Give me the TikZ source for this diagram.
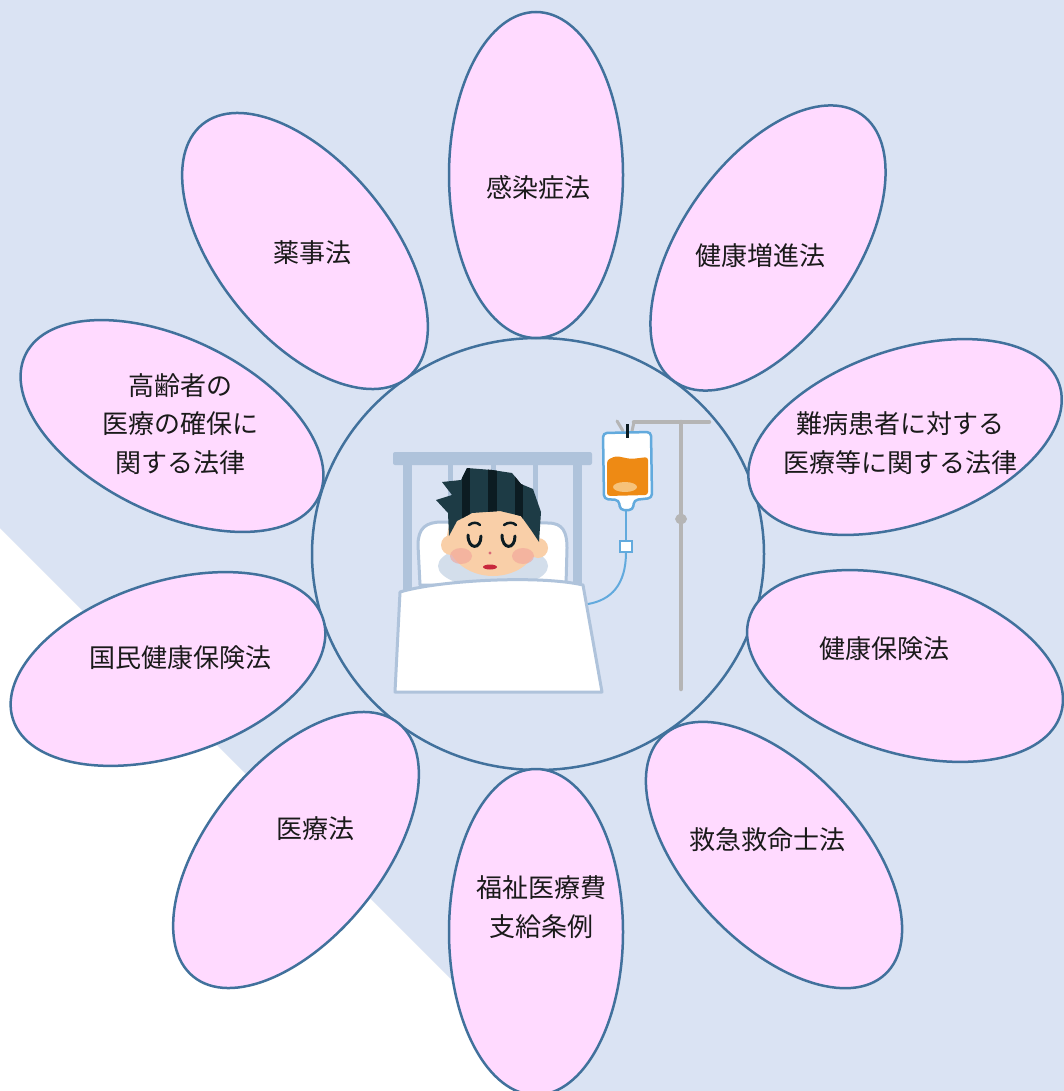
\documentclass[tikz,border=0pt]{standalone}
\usepackage{fontspec}
\newfontfamily\jp{Noto Sans CJK JP}
\definecolor{bgblue}{HTML}{DAE3F3}
\definecolor{petalfill}{HTML}{FFDAFF}
\definecolor{edge}{HTML}{41719C}
\definecolor{frame}{HTML}{AFC3DB}
\definecolor{skin}{HTML}{F9CFA8}
\definecolor{blush}{HTML}{F2A39A}
\definecolor{hair}{HTML}{1D3B45}
\definecolor{hairdark}{HTML}{0C1C22}
\definecolor{ivorange}{HTML}{EE8A14}
\definecolor{ivlight}{HTML}{F6C27A}
\definecolor{tube}{HTML}{62AADD}
\definecolor{stand}{HTML}{B5B5B5}
\definecolor{lips}{HTML}{C8283C}
\definecolor{txt}{HTML}{1A1A1A}
\tikzset{
  petal/.style={fill=petalfill, draw=edge, line width=2.5pt},
  hub/.style={fill=bgblue, draw=edge, line width=2.5pt},
  label/.style={font=\jp\fontsize{26}{38.5}\selectfont, text=txt, align=center, inner sep=0pt},
  outline/.style={draw=frame, line width=3pt, line join=round, line cap=round},
}
\begin{document}
\begin{tikzpicture}[x=1pt, y=-1pt]
\useasboundingbox (0,0) rectangle (1064,1091);
\fill[white] (0,0) rectangle (1064,1091);
% backdrop with the white corner at the lower left
\fill[bgblue] (0,0) -- (1064,0) -- (1064,1091) -- (535,1091) -- (515,1043) -- (0,528) -- cycle;

% centre disc
\draw[hub] (538,554) ellipse [x radius=226, y radius=216];

% ten petals around the disc: centre x / centre y / tilt
\foreach \cx/\cy/\tilt in {536/175/90, 768/248/55, 905/437/19, 905/666/-17, 774/855/-47,
                           536/932/-90, 296/850/-129, 168/669/198, 172/426/154, 305/251/129}{
  \coordinate (pc) at (\cx,\cy);
  \draw[petal, rotate around={\tilt:(pc)}] (pc) ellipse [x radius=163, y radius=87];
}

% petal labels
\node[label] (kansen)   at (538,188) {感染症法};
\node[label] (zoushin)  at (760,256) {健康増進法};
\node[label] (nanbyou)  at (900,443) {難病患者に対する\\医療等に関する法律};
\node[label] (kenpo)    at (884,649) {健康保険法};
\node[label] (kyukyu)   at (767,840) {救急救命士法};
\node[label] (fukushi)  at (541,907) {福祉医療費\\支給条例};
\node[label] (iryo)     at (315,829) {医療法};
\node[label] (kokuho)   at (180,658) {国民健康保険法};
\node[label] (koureisha) at (180,424) {高齢者の\\医療の確保に\\関する法律};
\node[label] (yakuji)   at (312,253) {薬事法};

% ---- patient in bed ----
% headboard
\fill[frame, rounded corners=2pt] (393,452) rectangle (592,465);
\draw[frame, line width=9pt] (407,463) -- (407,595);
\draw[frame, line width=9pt] (577,463) -- (577,590);
\draw[frame, line width=5pt] (450,463) -- (450,520);
\draw[frame, line width=5pt] (493,463) -- (493,475);
\draw[frame, line width=5pt] (535,463) -- (535,520);

% pillow
\draw[outline, fill=white] (420,585) -- (418,545) .. controls (418,528) and (426,522) .. (442,522)
  -- (548,523) .. controls (563,523) and (567,532) .. (567,548) -- (566,585) -- cycle;
\fill[frame!55] (493,566) ellipse [x radius=55, y radius=22];

% ears and face
\fill[skin] (451,545) circle (10);
\fill[skin] (538,548) circle (10);
\fill[skin] (493,538) ellipse [x radius=46, y radius=38];
\fill[blush, opacity=0.6] (461,556) ellipse [x radius=11, y radius=8];
\fill[blush, opacity=0.6] (523,556) ellipse [x radius=11, y radius=8];

% hair
\begin{scope}
\path[clip] (449,536) -- (448,513) -- (436,500) -- (452,495) -- (442,482) -- (461,480)
  -- (467,468) -- (492,470) -- (512,473) -- (521,484) -- (533,489) -- (541,512)
  -- (539,542) -- (531,530) -- (521,516) -- (500,511) -- (472,513) -- (457,521) -- cycle;
\fill[hair] (430,460) rectangle (545,545);
\fill[hairdark] (462,460) rectangle (470,545);
\fill[hairdark] (488,460) rectangle (497,545);
\fill[hairdark] (515,460) rectangle (523,545);
\end{scope}

% features
\draw[hairdark, line width=2.5pt, line cap=round] (469,525) .. controls (473,522) and (477,522) .. (480,525);
\draw[hairdark, line width=2.5pt, line cap=round] (504,525) .. controls (508,522) and (513,522) .. (516,525);
\draw[hairdark, line width=3pt, line cap=round] (468,535) .. controls (468,550) and (481,550) .. (481,536);
\draw[hairdark, line width=3pt, line cap=round] (502,535) .. controls (502,550) and (515,550) .. (515,536);
\fill[lips!70] (490,553) circle (1.6);
\fill[lips] (490,567) ellipse [x radius=7, y radius=2.5];

% blanket
\draw[outline, fill=white] (400,592) .. controls (440,580) and (540,575) .. (583,585)
  -- (602,692) -- (395,692) -- cycle;

% drip stand
\draw[stand, line width=4.5pt, line cap=round] (634,422) -- (709,422);
\draw[stand, line width=4.5pt, line cap=round] (681,422) -- (681,689);
\fill[stand] (681,519) ellipse [x radius=6, y radius=5];
\draw[stand, line width=3pt, line cap=round] (617,421) -- (623,431);
\draw[stand, line width=3pt, line cap=round] (634,422) -- (632,431);

% drip bag
\draw[tube, line width=2.5pt, fill=white, rounded corners=4pt, line join=round]
  (603,433) -- (651,432) -- (652,498) -- (634,500) -- (633,510) -- (620,510) -- (619,500) -- (604,499) -- cycle;
\fill[ivorange, rounded corners=3pt] (607,460) -- (616,456) -- (631,459) -- (648,457) -- (648,495) -- (607,496) -- cycle;
\fill[ivlight] (625,487) ellipse [x radius=12, y radius=5];
\draw[hairdark, line width=3pt] (627,424) -- (627,438);

% tube to the patient
\draw[tube, line width=2pt] (626,510) -- (626,541);
\draw[tube, line width=2pt, fill=white] (620,541) rectangle (632,552);
\draw[tube, line width=2pt] (626,552) .. controls (626,585) and (611,600) .. (588,604);
\end{tikzpicture}
\end{document}
